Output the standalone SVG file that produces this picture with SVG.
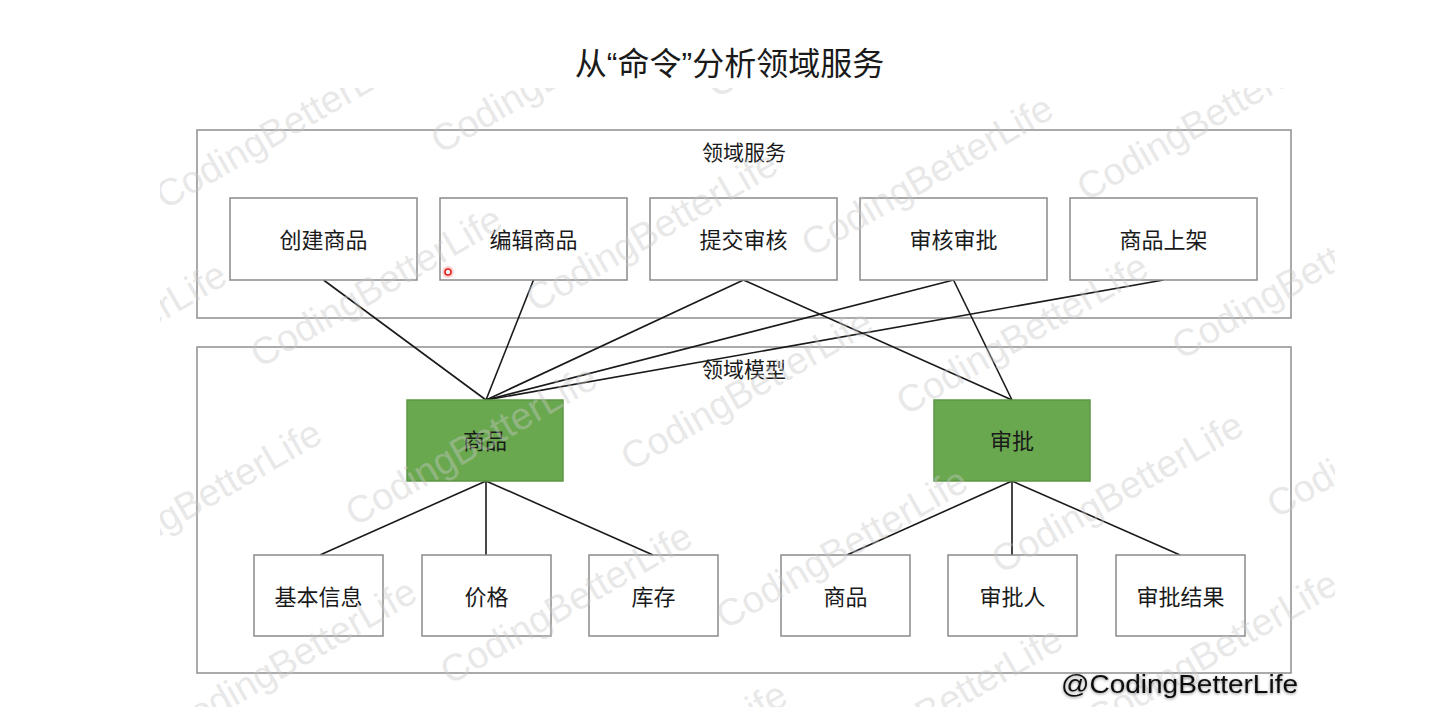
<svg xmlns="http://www.w3.org/2000/svg" width="1453" height="707" viewBox="0 0 1453 707">
<defs>
<style>
.t{font-family:"Liberation Sans","Noto Sans CJK SC",sans-serif;fill:#1a1a1a;text-anchor:middle}
.title{font-size:32px}
.sec{font-size:21px}
.lbl{font-size:22px}
.box{fill:#fff;stroke:#8a8a8a;stroke-width:1.5}
.outer{fill:none;stroke:#8f8f8f;stroke-width:1.5}
.green{fill:#6aa84f;stroke:#5e9645;stroke-width:1.5}
.ln{stroke:#1a1a1a;stroke-width:1.6;fill:none}
.wm{font-family:"Liberation Sans",Arial,sans-serif;font-size:38px;fill:#c8c8c8;fill-opacity:.42}
.sig{font-family:"Liberation Sans",Arial,sans-serif;font-size:26px;fill:#111}
</style>
<clipPath id="wmclip"><rect x="160" y="88" width="1175" height="619"/></clipPath>
<filter id="shadow" x="-10%" y="-40%" width="120%" height="180%">
<feDropShadow dx="0" dy="1" stdDeviation="1.6" flood-color="#000" flood-opacity="0.45"/>
</filter>
</defs>
<rect width="1453" height="707" fill="#fff"/>

<text class="t title" x="729.5" y="74.5">从“命令”分析领域服务</text>

<g id="domain-service">
<rect class="outer" x="197" y="130" width="1094" height="188"/>
<text class="t sec" x="744" y="159.5">领域服务</text>
</g>
<g id="domain-model">
<rect class="outer" x="197" y="347" width="1094" height="326"/>
<text class="t sec" x="744" y="377">领域模型</text>
</g>

<g id="connectors">
<line class="ln" x1="323.5" y1="280" x2="486" y2="400"/>
<line class="ln" x1="533.5" y1="280" x2="486" y2="400"/>
<line class="ln" x1="743.5" y1="280" x2="486" y2="400"/>
<line class="ln" x1="743.5" y1="280" x2="1012" y2="400"/>
<line class="ln" x1="953.5" y1="280" x2="486" y2="400"/>
<line class="ln" x1="953.5" y1="280" x2="1012" y2="400"/>
<line class="ln" x1="1163.5" y1="280" x2="486" y2="400"/>
<line class="ln" x1="486" y1="481" x2="320" y2="555"/>
<line class="ln" x1="486" y1="481" x2="486" y2="555"/>
<line class="ln" x1="486" y1="481" x2="653" y2="555"/>
<line class="ln" x1="1012" y1="481" x2="847" y2="555"/>
<line class="ln" x1="1012" y1="481" x2="1012" y2="555"/>
<line class="ln" x1="1012" y1="481" x2="1180" y2="555"/>
</g>

<g id="svc-create"><rect class="box" x="230" y="198" width="187" height="82"/><text class="t lbl" x="323.5" y="248">创建商品</text></g>
<g id="svc-edit"><rect class="box" x="440" y="198" width="187" height="82"/><text class="t lbl" x="533.5" y="248">编辑商品</text></g>
<g id="svc-submit"><rect class="box" x="650" y="198" width="187" height="82"/><text class="t lbl" x="743.5" y="248">提交审核</text></g>
<g id="svc-approve"><rect class="box" x="860" y="198" width="187" height="82"/><text class="t lbl" x="953.5" y="248">审核审批</text></g>
<g id="svc-shelve"><rect class="box" x="1070" y="198" width="187" height="82"/><text class="t lbl" x="1163.5" y="248">商品上架</text></g>

<g id="model-product"><rect class="green" x="407" y="400" width="156" height="81"/><text class="t lbl" x="485" y="449">商品</text></g>
<g id="model-approval"><rect class="green" x="934" y="400" width="156" height="81"/><text class="t lbl" x="1012" y="449">审批</text></g>

<g id="p-basic"><rect class="box" x="254" y="555" width="129" height="81"/><text class="t lbl" x="318.5" y="605">基本信息</text></g>
<g id="p-price"><rect class="box" x="422" y="555" width="129" height="81"/><text class="t lbl" x="486.5" y="605">价格</text></g>
<g id="p-stock"><rect class="box" x="589" y="555" width="129" height="81"/><text class="t lbl" x="653.5" y="605">库存</text></g>
<g id="a-product"><rect class="box" x="781" y="555" width="129" height="81"/><text class="t lbl" x="845.5" y="605">商品</text></g>
<g id="a-approver"><rect class="box" x="948" y="555" width="129" height="81"/><text class="t lbl" x="1012.5" y="605">审批人</text></g>
<g id="a-result"><rect class="box" x="1116" y="555" width="129" height="81"/><text class="t lbl" x="1180.5" y="605">审批结果</text></g>

<g id="cursor">
<circle cx="448" cy="272" r="6" fill="#ff8080" fill-opacity="0.35"/>
<circle cx="448" cy="272" r="3" fill="#fff" stroke="#e02020" stroke-width="1.6"/>
</g>

<g id="watermark" clip-path="url(#wmclip)">
<text class="wm" transform="translate(165,210) rotate(-30)">CodingBetterLife</text>
<text class="wm" transform="translate(440.5,154.5) rotate(-30)">CodingBetterLife</text>
<text class="wm" transform="translate(716,99) rotate(-30)">CodingBetterLife</text>
<text class="wm" transform="translate(-15.5,424) rotate(-30)">CodingBetterLife</text>
<text class="wm" transform="translate(260,368.5) rotate(-30)">CodingBetterLife</text>
<text class="wm" transform="translate(535.5,313) rotate(-30)">CodingBetterLife</text>
<text class="wm" transform="translate(811,257.5) rotate(-30)">CodingBetterLife</text>
<text class="wm" transform="translate(1086.5,202) rotate(-30)">CodingBetterLife</text>
<text class="wm" transform="translate(79.5,582.5) rotate(-30)">CodingBetterLife</text>
<text class="wm" transform="translate(355,527) rotate(-30)">CodingBetterLife</text>
<text class="wm" transform="translate(630.5,471.5) rotate(-30)">CodingBetterLife</text>
<text class="wm" transform="translate(906,416) rotate(-30)">CodingBetterLife</text>
<text class="wm" transform="translate(1181.5,360.5) rotate(-30)">CodingBetterLife</text>
<text class="wm" transform="translate(174.5,741) rotate(-30)">CodingBetterLife</text>
<text class="wm" transform="translate(450,685.5) rotate(-30)">CodingBetterLife</text>
<text class="wm" transform="translate(725.5,630) rotate(-30)">CodingBetterLife</text>
<text class="wm" transform="translate(1001,574.5) rotate(-30)">CodingBetterLife</text>
<text class="wm" transform="translate(1276.5,519) rotate(-30)">CodingBetterLife</text>
<text class="wm" transform="translate(545,844) rotate(-30)">CodingBetterLife</text>
<text class="wm" transform="translate(820.5,788.5) rotate(-30)">CodingBetterLife</text>
<text class="wm" transform="translate(1096,733) rotate(-30)">CodingBetterLife</text>
</g>

<text class="sig" x="1061" y="693" textLength="237" lengthAdjust="spacingAndGlyphs" filter="url(#shadow)">@CodingBetterLife</text>
</svg>
